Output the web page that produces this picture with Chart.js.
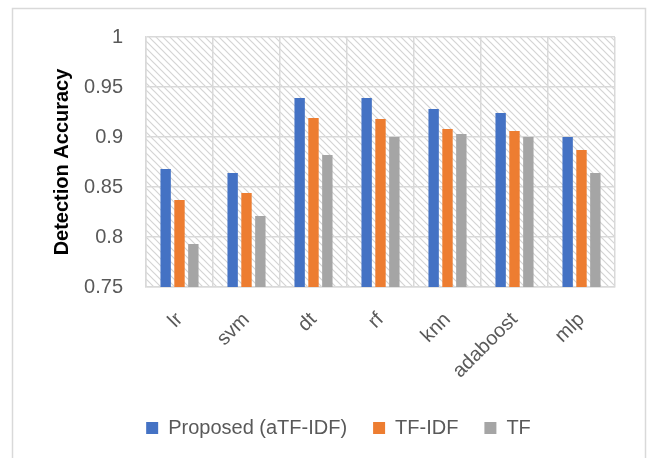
<!DOCTYPE html>
<html>
<head>
<meta charset="utf-8">
<script src="https://cdn.jsdelivr.net/npm/chart.js@4/dist/chart.umd.min.js"></script>
<style>
  html, body { margin: 0; padding: 0; background: #fff; }
  #wrap { width: 653px; height: 458px; position: relative; }
</style>
</head>
<body>
<div id="wrap"><canvas id="c" width="653" height="458"></canvas></div>
<script>
// Classifiers compared
const categories = ['lr', 'svm', 'dt', 'rf', 'knn', 'adaboost', 'mlp'];

// Detection accuracy per feature weighting scheme
const proposedATfIdf = [0.868, 0.864, 0.939, 0.939, 0.928, 0.924, 0.900];
const tfIdf          = [0.837, 0.844, 0.919, 0.918, 0.908, 0.906, 0.887];
const tf             = [0.793, 0.821, 0.882, 0.900, 0.903, 0.900, 0.864];

const seriesNames = ['Proposed (aTF-IDF)', 'TF-IDF', 'TF'];
const yTicks = [0.75, 0.8, 0.85, 0.9, 0.95, 1];

const FONT = "'Liberation Sans', Arial, sans-serif";
const GRID = '#d9d9d9';
const TEXT = '#595959';

// Diagonal hatch tile used behind the bars
function makeHatch() {
  const s = 7;
  const t = document.createElement('canvas');
  t.width = s; t.height = s;
  const g = t.getContext('2d');
  g.fillStyle = '#ffffff';
  g.fillRect(0, 0, s, s);
  g.strokeStyle = '#d4d4d4';
  g.lineWidth = 1.2;
  g.beginPath();
  g.moveTo(-1, -1); g.lineTo(s + 1, s + 1);
  g.moveTo(-1, s - 1); g.lineTo(1, s + 1);
  g.moveTo(s - 1, -1); g.lineTo(s + 1, 1);
  g.stroke();
  return t;
}

const backdrop = {
  id: 'backdrop',
  afterLayout(chart) {
    // nudge the legend row slightly right of centre
    if (chart.legend) { chart.legend.left += 31; chart.legend.right += 31; }
  },
  beforeDraw(chart) {
    const { ctx, chartArea: a, width, height } = chart;
    ctx.save();
    ctx.fillStyle = '#ffffff';
    ctx.fillRect(0, 0, width, height);
    // outer frame
    ctx.strokeStyle = GRID;
    ctx.lineWidth = 1.5;
    ctx.strokeRect(12.5, 8.5, 633, height + 10);
    // hatched plot area
    ctx.fillStyle = ctx.createPattern(makeHatch(), 'repeat');
    ctx.fillRect(a.left, a.top, a.right - a.left, a.bottom - a.top);
    ctx.restore();
  }
};

new Chart(document.getElementById('c'), {
  type: 'bar',
  data: {
    labels: categories,
    datasets: [
      { label: seriesNames[0], data: proposedATfIdf, backgroundColor: '#4472C4' },
      { label: seriesNames[1], data: tfIdf, backgroundColor: '#ED7D31' },
      { label: seriesNames[2], data: tf, backgroundColor: '#A5A5A5' }
    ]
  },
  options: {
    responsive: false,
    animation: false,
    devicePixelRatio: 1,
    layout: { padding: { left: 0, right: 38, top: 37, bottom: 10 } },
    datasets: { bar: { categoryPercentage: 0.62, barPercentage: 0.75 } },
    plugins: {
      legend: {
        position: 'bottom',
        labels: {
          color: TEXT,
          font: { family: FONT, size: 20 },
          boxWidth: 12,
          boxHeight: 12,
          padding: 26
        }
      },
      tooltip: { enabled: false }
    },
    scales: {
      x: {
        offset: true,
        grid: { color: GRID, lineWidth: 1.5, drawTicks: false, offset: true },
        border: { color: GRID, width: 1.5 },
        ticks: {
          color: TEXT,
          font: { family: FONT, size: 20 },
          minRotation: 45,
          maxRotation: 45,
          padding: 21
        },
        afterFit(scale) { scale.height = 105; }
      },
      y: {
        min: 0.75,
        max: 1,
        afterBuildTicks(scale) { scale.ticks = yTicks.map(v => ({ value: v })); },
        grid: { color: GRID, lineWidth: 1.5, drawTicks: false },
        border: { color: GRID, width: 1.5 },
        ticks: {
          color: TEXT,
          font: { family: FONT, size: 20 },
          padding: 23,
          callback: v => String(v)
        },
        title: {
          display: true,
          text: 'Detection Accuracy',
          color: '#000000',
          font: { family: FONT, size: 20, weight: 'bold' },
          padding: { top: 50, bottom: 0 }
        },
        afterFit(scale) { scale.width = 146; }
      }
    }
  },
  plugins: [backdrop]
});
</script>
</body>
</html>
